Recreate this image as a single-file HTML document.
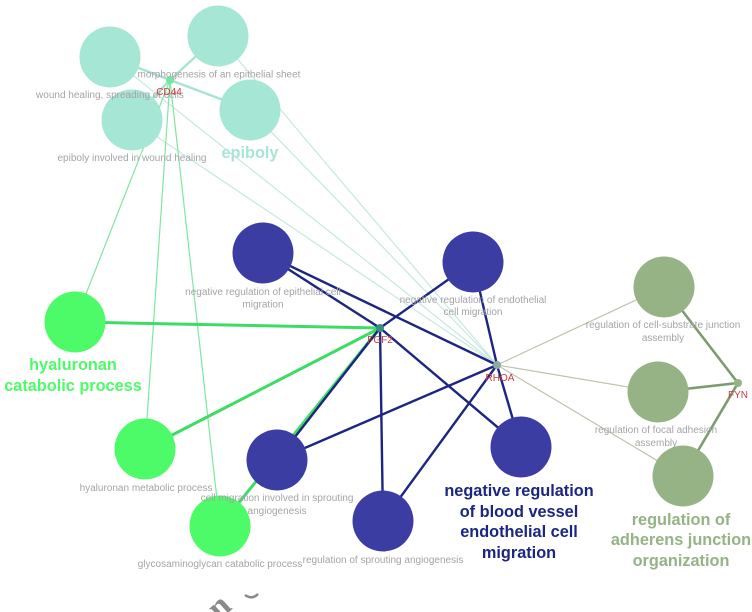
<!DOCTYPE html>
<html><head><meta charset="utf-8"><style>
html,body{margin:0;padding:0;background:#fff}
svg{display:block}
text{font-family:"Liberation Sans",sans-serif}
.l{font-size:10px;fill:#a4a4a8;text-anchor:middle}
.g{font-size:10px;fill:#cc3a40;text-anchor:middle}
.b{font-size:16.3px;font-weight:bold;text-anchor:middle}
</style></head><body>
<svg width="752" height="612" viewBox="0 0 752 612" xmlns="http://www.w3.org/2000/svg">
<defs><filter id="s" x="0" y="0" width="100%" height="100%"><feGaussianBlur stdDeviation="0.35"/></filter></defs>
<rect width="752" height="612" fill="#fff"/>
<g filter="url(#s)">
<g stroke="#c6e8df" stroke-width="1.2" fill="none">
<line x1="110" y1="57" x2="497" y2="365"/><line x1="218" y1="36" x2="497" y2="365"/>
<line x1="250" y1="110" x2="497" y2="365"/><line x1="132" y1="120" x2="497" y2="365"/>
</g>
<g stroke="#7fe8a0" stroke-width="1.2" fill="none">
<line x1="170" y1="80" x2="75" y2="322"/><line x1="170" y1="80" x2="145" y2="449"/><line x1="170" y1="80" x2="220" y2="526"/>
</g>
<g stroke="#a6e4d2" stroke-width="2.4" fill="none">
<line x1="170" y1="80" x2="110" y2="57"/><line x1="170" y1="80" x2="218" y2="36"/><line x1="170" y1="80" x2="250" y2="110"/><line x1="170" y1="80" x2="132" y2="120"/>
</g>
<g stroke="#b9c6ac" stroke-width="1.2" fill="none">
<line x1="497" y1="365" x2="664" y2="287"/><line x1="497" y1="365" x2="658" y2="392"/><line x1="497" y1="365" x2="683" y2="476"/>
</g>
<g stroke="#7c9c70" stroke-width="2.6" fill="none">
<line x1="738" y1="383" x2="664" y2="287"/><line x1="738" y1="383" x2="658" y2="392"/><line x1="738" y1="383" x2="683" y2="476"/>
</g>
<g stroke="#3cdc64" stroke-width="3" fill="none">
<line x1="380" y1="328" x2="75" y2="322"/><line x1="380" y1="328" x2="145" y2="449"/><line x1="380" y1="328" x2="220" y2="526"/>
</g>
<g stroke="#1d2580" stroke-width="2.4" fill="none">
<line x1="380" y1="328" x2="263" y2="253"/><line x1="380" y1="328" x2="473" y2="262"/><line x1="380" y1="328" x2="277" y2="460"/><line x1="380" y1="328" x2="383" y2="521"/><line x1="380" y1="328" x2="521" y2="447"/>
<line x1="497" y1="365" x2="263" y2="253"/><line x1="497" y1="365" x2="473" y2="262"/><line x1="497" y1="365" x2="277" y2="460"/><line x1="497" y1="365" x2="383" y2="521"/><line x1="497" y1="365" x2="521" y2="447"/>
</g>
<g fill="#a6e6d4">
<circle cx="110" cy="57" r="30.5"/><circle cx="218" cy="36" r="30.5"/><circle cx="250" cy="110" r="30.5"/><circle cx="132" cy="120" r="30.5"/>
</g>
<g fill="#3a3da3">
<circle cx="263" cy="253" r="30.5"/><circle cx="473" cy="262" r="30.5"/><circle cx="277" cy="460" r="30.5"/><circle cx="383" cy="521" r="30.5"/><circle cx="521" cy="447" r="30.5"/>
</g>
<g fill="#4dfa68">
<circle cx="75" cy="322" r="30.5"/><circle cx="145" cy="449" r="30.5"/><circle cx="220" cy="526" r="30.5"/>
</g>
<g fill="#95b384">
<circle cx="664" cy="287" r="30.5"/><circle cx="658" cy="392" r="30.5"/><circle cx="683" cy="476" r="30.5"/>
</g>
<circle cx="170" cy="80" r="4" fill="#72e8a0"/>
<circle cx="380" cy="328" r="4" fill="#3c8c80"/>
<circle cx="497" cy="365" r="4" fill="#8eaaa4"/>
<circle cx="738" cy="383" r="4" fill="#95b384"/>
<text class="l" x="219" y="77.5">morphogenesis of an epithelial sheet</text>
<text class="l" x="110" y="98">wound healing, spreading of cells</text>
<text class="l" x="132" y="161">epiboly involved in wound healing</text>
<text class="l" x="263" y="295">negative regulation of epithelial cell</text>
<text class="l" x="263" y="307.500">migration</text>
<text class="l" x="473" y="303">negative regulation of endothelial</text>
<text class="l" x="473" y="315">cell migration</text>
<text class="l" x="663" y="328">regulation of cell-substrate junction</text>
<text class="l" x="663" y="341">assembly</text>
<text class="l" x="656" y="433">regulation of focal adhesion</text>
<text class="l" x="656" y="446">assembly</text>
<text class="l" x="146" y="491">hyaluronan metabolic process</text>
<text class="l" x="277" y="501">cell migration involved in sprouting</text>
<text class="l" x="277" y="514">angiogenesis</text>
<text class="l" x="220" y="567">glycosaminoglycan catabolic process</text>
<text class="l" x="383" y="563">regulation of sprouting angiogenesis</text>
<text class="g" x="169" y="95">CD44</text>
<text class="g" x="380" y="343">FGF2</text>
<text class="g" x="500" y="381">RHOA</text>
<text class="g" x="738" y="398">FYN</text>
<text class="b" x="250" y="158" fill="#a6e6d4">epiboly</text>
<text class="b" x="73" y="370" fill="#4dfa68">hyaluronan</text>
<text class="b" x="73" y="391" fill="#4dfa68">catabolic process</text>
<text class="b" x="519" y="496" fill="#1d2580">negative regulation</text>
<text class="b" x="519" y="517" fill="#1d2580">of blood vessel</text>
<text class="b" x="519" y="537" fill="#1d2580">endothelial cell</text>
<text class="b" x="519" y="558" fill="#1d2580">migration</text>
<text class="b" x="681" y="525" fill="#95b384">regulation of</text>
<text class="b" x="681" y="545" fill="#95b384">adherens junction</text>
<text class="b" x="681" y="566" fill="#95b384">organization</text>
<text x="0" y="0" transform="translate(219,621) rotate(-42)" style="font-family:'Liberation Serif',serif;font-size:34px;font-weight:bold;fill:#8a8a8a">n</text>
<path d="M245 595 Q252 600 258 594" stroke="#8a8a8a" stroke-width="2.5" fill="none"/>
</g>
</svg>
</body></html>
